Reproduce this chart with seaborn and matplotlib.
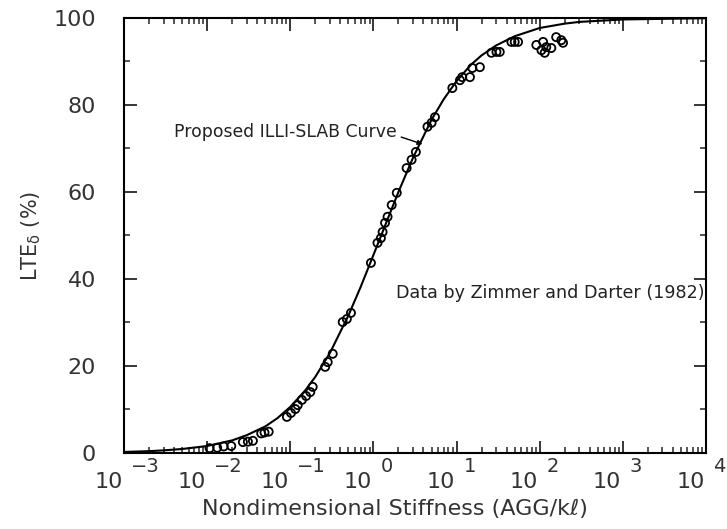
import numpy as np
import pandas as pd
import matplotlib
matplotlib.use("Agg")
import matplotlib.pyplot as plt
import matplotlib.ticker as mticker
import seaborn as sns

# measured points (Zimmer and Darter, 1982)
stiffness = [0.0107, 0.0132, 0.0158, 0.0195, 0.0269, 0.0309, 0.0355, 0.0447, 0.049, 0.055,
             0.091, 0.102, 0.115, 0.123, 0.138, 0.155, 0.174, 0.186,
             0.263, 0.282, 0.324, 0.427, 0.479, 0.537,
             0.933, 1.12, 1.23, 1.29, 1.38, 1.48, 1.66, 1.91, 2.51, 2.88, 3.24,
             4.47, 5.01, 5.50, 8.91, 11.0, 11.7, 14.5, 15.5, 19.1,
             26.3, 30.2, 33.1, 45.7, 50.1, 55.0,
             91.2, 110, 105, 120, 115, 138, 158, 182, 191]
lte = [1.1, 1.2, 1.5, 1.6, 2.5, 2.6, 2.8, 4.5, 4.7, 4.9,
       8.3, 9.2, 10.1, 11.0, 12.2, 13.1, 14.0, 15.2,
       19.8, 20.9, 22.8, 30.1, 30.8, 32.2,
       43.7, 48.3, 49.4, 50.8, 52.9, 54.3, 57.0, 59.8, 65.5, 67.4, 69.2,
       75.0, 75.9, 77.2, 83.9, 85.7, 86.4, 86.4, 88.5, 88.7,
       92.0, 92.2, 92.2, 94.5, 94.5, 94.5,
       93.8, 94.5, 92.6, 93.3, 92.0, 93.1, 95.6, 94.9, 94.3]

# proposed ILLI-SLAB curve
curve_x = [0.001, 0.002, 0.003, 0.005, 0.01, 0.02, 0.03, 0.05, 0.07, 0.1, 0.15, 0.2, 0.3,
           0.5, 0.7, 1, 1.5, 2, 3, 5, 7, 10, 15, 20, 30, 50, 100, 200, 300, 1000, 10000]
curve_lte = [0.24, 0.42, 0.6, 0.92, 1.6, 2.9, 4.1, 6.1, 8.0, 10.6, 14.3, 17.5, 23.0,
             31.6, 38.1, 45.5, 54.0, 60.0, 67.9, 76.6, 81.3, 85.5, 89.3, 91.4, 93.7, 95.8,
             97.7, 98.7, 99.1, 99.66, 99.95]

exponents = [-3, -2, -1, 0, 1, 2, 3, 4]
y_ticks = [0, 20, 40, 60, 80, 100]

pts = pd.DataFrame({"stiffness": stiffness, "lte": lte})
crv = pd.DataFrame({"stiffness": curve_x, "lte": curve_lte})

sns.set_style("ticks")
plt.rcParams["font.family"] = ["DejaVu Sans"]
plt.rcParams["mathtext.default"] = "regular"
txt = "#333333"

fig = plt.figure(figsize=(7.27, 5.29), dpi=100)
ax = fig.add_axes([0.1706, 0.1437, 0.8004, 0.8223])

sns.lineplot(data=crv, x="stiffness", y="lte", color="black", linewidth=1.5, ax=ax)
sns.scatterplot(data=pts, x="stiffness", y="lte", marker="o", s=34, facecolor="none",
                edgecolor="black", linewidth=1.3, ax=ax, zorder=3)

ax.set_xscale("log")
ax.set_xlim(1e-3, 1e4)
ax.set_ylim(0, 100)

for s in ax.spines.values():
    s.set_linewidth(1.5)
    s.set_color("black")

ax.xaxis.set_major_locator(mticker.FixedLocator([10.0 ** e for e in exponents]))
ax.xaxis.set_minor_locator(mticker.LogLocator(base=10, subs=np.arange(2, 10), numticks=20))
ax.xaxis.set_minor_formatter(mticker.NullFormatter())
ax.set_yticks(y_ticks)
ax.yaxis.set_minor_locator(mticker.MultipleLocator(10))
ax.tick_params(which="major", direction="in", length=9, width=1.3, top=True, right=True)
ax.tick_params(which="minor", direction="in", length=4, width=1.1, top=True, right=True)
ax.tick_params(axis="x", labelbottom=False)
ax.tick_params(axis="y", labelsize=16, labelcolor=txt, pad=20)

# x tick labels: "10" with raised exponent
tr = ax.get_xaxis_transform()
for e in exponents:
    ax.annotate("10", xy=(10.0 ** e, 0), xycoords=tr, xytext=(-1, -14), textcoords="offset points",
                ha="right", va="top", fontsize=16, color=txt)
    ax.annotate(str(e).replace("-", "\u2212"), xy=(10.0 ** e, 0), xycoords=tr, xytext=(5, -3),
                textcoords="offset points", ha="left", va="top", fontsize=14, color=txt)

ax.set_xlabel("Nondimensional Stiffness (AGG/k\u2113)", fontsize=16, color=txt, labelpad=30)
ax.xaxis.label.set_x(0.466)
ax.set_ylabel("LTE$_{\\delta}$ (%)", fontsize=15, color=txt, labelpad=8)

ax.annotate("Proposed ILLI-SLAB Curve", xy=(3.9, 71.0), xytext=(1.9, 73.8),
            fontsize=12.4, color="#222222", ha="right", va="center",
            arrowprops=dict(arrowstyle="-|>", color="black", lw=1.0, shrinkA=1, shrinkB=0,
                            mutation_scale=7, relpos=(1.0, 0.3)))
ax.text(9.7e3, 36.8, "Data by Zimmer and Darter (1982)", fontsize=12.6, color="#222222",
        ha="right", va="center")

ax.grid(False)
fig.savefig("out.png", dpi=100)
